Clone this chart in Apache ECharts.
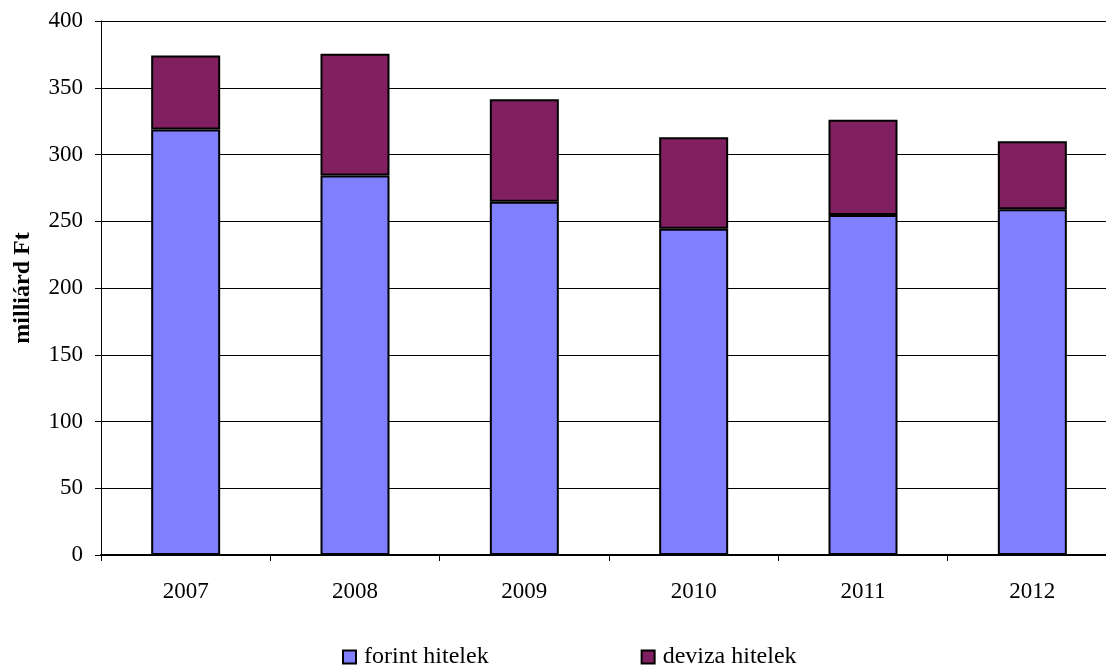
<!DOCTYPE html>
<html>
<head>
<meta charset="utf-8">
<script src="https://cdn.jsdelivr.net/npm/echarts@6/dist/echarts.min.js"></script>
<style>
html,body{margin:0;padding:0;background:#fff;overflow:hidden;}
#chart{width:1117px;height:668px;}
</style>
</head>
<body>
<div id="chart"></div>
<script>
const categories = ['2007', '2008', '2009', '2010', '2011', '2012'];
const forintHitelek = [318.8, 284.3, 264.6, 244.4, 254.6, 258.9];
const devizaHitelek = [55.4, 91.1, 76.8, 68.6, 71.4, 51.1];
const seriesNames = ['forint hitelek', 'deviza hitelek'];
const yAxisTitle = 'milliárd Ft';

const font = '"Liberation Serif", "Times New Roman", serif';
const chart = echarts.init(document.getElementById('chart'), null, {renderer: 'canvas'});
chart.setOption({
  animation: false,
  backgroundColor: '#ffffff',
  grid: {left: 101, top: 21, right: 0, height: 534},
  legend: {
    left: 337, top: 640,
    itemWidth: 13, itemHeight: 13, itemGap: 152,
    icon: 'rect',
    textStyle: {fontFamily: font, fontSize: 24, color: '#000', padding: [0, 0, 0, 3]},
    data: seriesNames
  },
  xAxis: {
    type: 'category',
    data: categories,
    boundaryGap: true,
    axisLine: {lineStyle: {color: '#000', width: 2}},
    axisTick: {show: true, length: 6, alignWithLabel: false, lineStyle: {color: '#000'}},
    axisLabel: {fontFamily: font, fontSize: 23, color: '#000', margin: 25},
    splitLine: {show: false}
  },
  yAxis: {
    type: 'value',
    min: 0, max: 400, interval: 50,
    name: yAxisTitle,
    nameLocation: 'middle',
    nameGap: 66,
    nameRotate: 90,
    nameTextStyle: {fontFamily: font, fontSize: 24, fontWeight: 'bold', color: '#000'},
    axisLine: {show: true, lineStyle: {color: '#000', width: 1}},
    axisTick: {show: true, length: 6, lineStyle: {color: '#000'}},
    axisLabel: {fontFamily: font, fontSize: 23, color: '#000', margin: 18},
    splitLine: {show: true, lineStyle: {color: '#000', width: 1}}
  },
  series: [
    {
      name: seriesNames[0], type: 'bar', stack: 'total', data: forintHitelek,
      barWidth: 69,
      itemStyle: {color: '#8080FF', borderColor: '#000', borderWidth: 2}
    },
    {
      name: seriesNames[1], type: 'bar', stack: 'total', data: devizaHitelek,
      barWidth: 69,
      itemStyle: {color: '#802060', borderColor: '#000', borderWidth: 2}
    }
  ]
});
</script>
</body>
</html>
